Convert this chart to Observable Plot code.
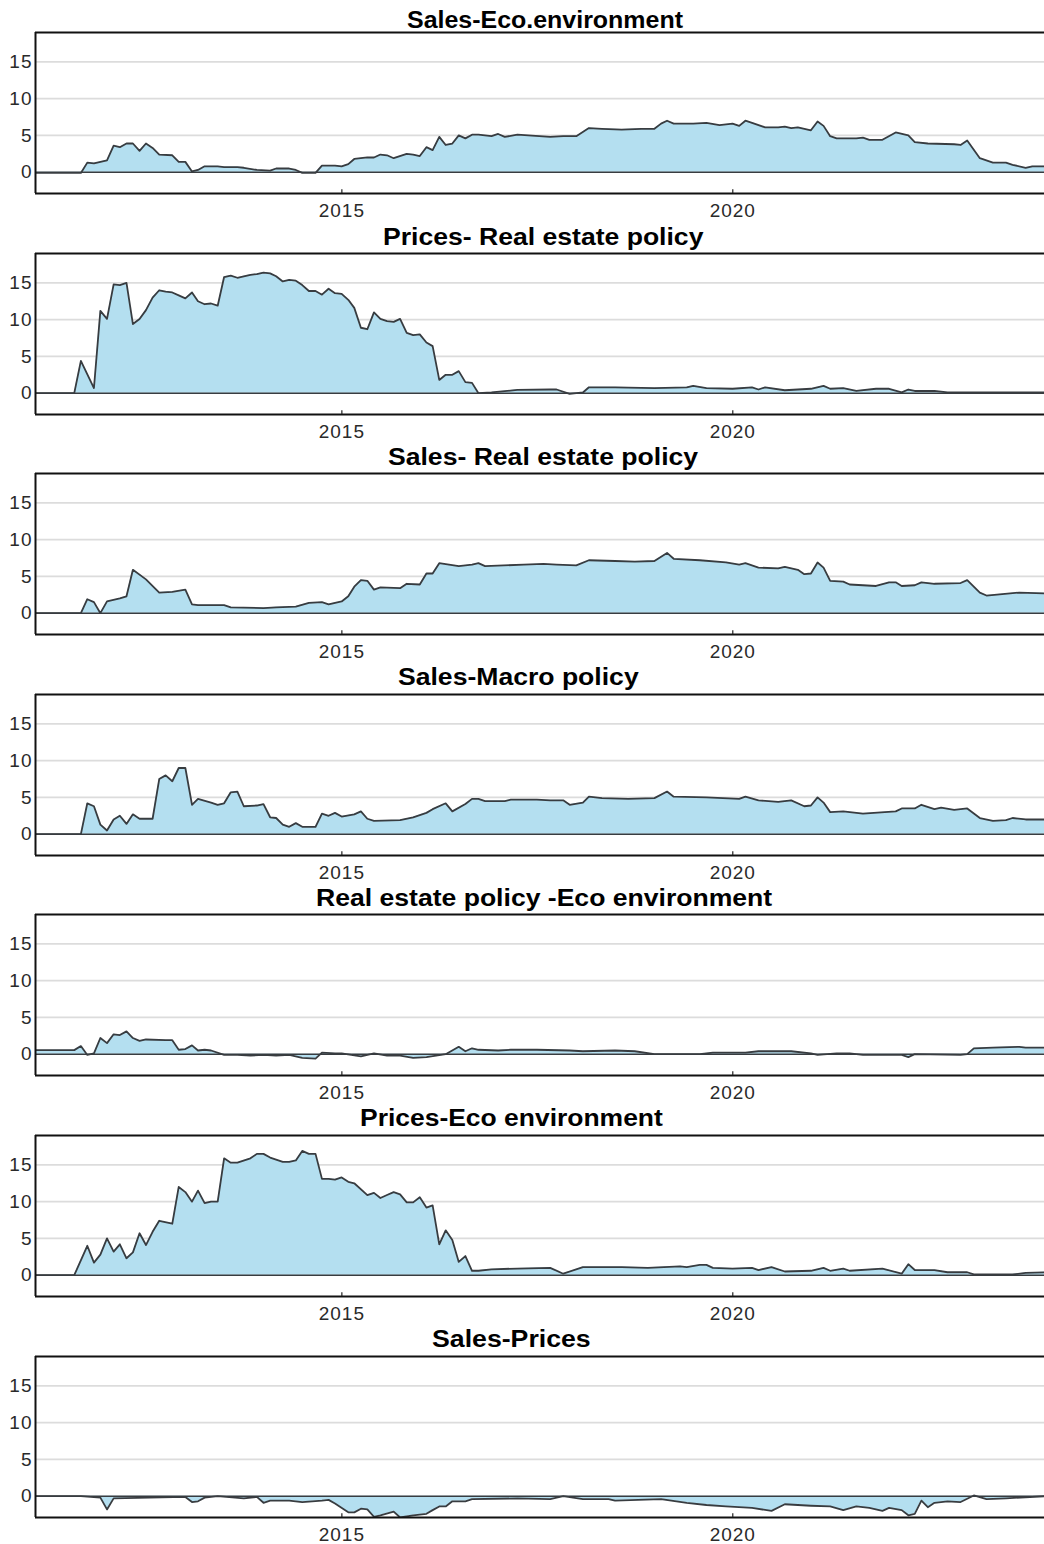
<!DOCTYPE html>
<html><head><meta charset="utf-8">
<script src="https://cdn.jsdelivr.net/npm/d3@7"></script>
<script src="https://cdn.jsdelivr.net/npm/@observablehq/plot@0.6"></script>
<style>
body{margin:0;background:#fff;font-family:Arial,"Liberation Sans",sans-serif;}
#root{position:relative;width:1044px;height:1544px;overflow:hidden;background:#fff;}
.panel{position:absolute;left:0;width:1044px;height:221px;}
.title{position:absolute;font-weight:bold;font-size:23px;line-height:23px;white-space:nowrap;color:#000;font-family:Arial,"Liberation Sans",sans-serif;transform-origin:0 0;}
.panel svg{position:absolute;top:22px;left:0;overflow:visible;}
.panel svg text{letter-spacing:1px;}
</style></head><body><div id="root"></div>
<script>
// ---- data: [months since Jan 2011, value] vertices ----
const titles = ["Sales-Eco.environment","Prices- Real estate policy","Sales- Real estate policy","Sales-Macro policy","Real estate policy -Eco environment","Prices-Eco environment","Sales-Prices"];

const salesEcoEnv = [[0,-0.1],[7,-0.1],[8,1.3],[9,1.2],[11,1.6],[12,3.6],[13,3.4],[14,3.9],[15,3.9],[16,2.9],[17,3.9],[18,3.3],[19,2.4],[21,2.3],[22,1.4],[23,1.4],[24,0.1],[25,0.3],[26,0.8],[28,0.8],[29,0.7],[31,0.7],[32,0.6],[34,0.3],[36,0.2],[37,0.5],[39,0.5],[40,0.3],[41,-0.1],[43,-0.1],[44,0.9],[46,0.9],[47,0.8],[48,1.1],[49,1.8],[51,2.0],[52,2.0],[53,2.4],[54,2.3],[55,1.9],[57,2.5],[58,2.4],[59,2.2],[60,3.4],[61,3.0],[62,4.8],[63,3.7],[64,3.9],[65,5.0],[66,4.6],[67,5.1],[68,5.1],[70,4.9],[71,5.2],[72,4.8],[74,5.1],[79,4.8],[81,4.9],[83,4.9],[85,6.0],[87,5.9],[90,5.8],[93,5.9],[95,5.9],[96,6.6],[97,7.0],[98,6.6],[101,6.6],[103,6.7],[105,6.4],[107,6.6],[108,6.3],[109,7.0],[110,6.7],[112,6.1],[114,6.1],[115,6.2],[116,6.0],[117,6.1],[119,5.7],[120,6.9],[121,6.3],[122,4.9],[123,4.6],[126,4.6],[127,4.7],[128,4.4],[130,4.4],[132,5.4],[134,5.0],[135,4.1],[137,3.9],[141,3.8],[142,3.7],[143,4.3],[145,1.9],[147,1.3],[149,1.3],[150,1.0],[152,0.6],[153,0.8],[155,0.8]];

const pricesRealEstate = [[0,0],[6,0],[7,4.4],[9,0.7],[10,11.2],[11,10.1],[12,14.8],[13,14.7],[14,15.0],[15,9.4],[16,10.1],[17,11.3],[18,13.0],[19,14.0],[20,13.8],[21,13.7],[22,13.3],[23,12.9],[24,13.7],[25,12.5],[26,12.1],[27,12.2],[28,11.9],[29,15.8],[30,16.0],[31,15.7],[32,15.9],[33,16.1],[34,16.2],[35,16.4],[36,16.3],[37,15.9],[38,15.2],[39,15.4],[40,15.3],[41,14.7],[42,13.9],[43,13.9],[44,13.4],[45,14.2],[46,13.6],[47,13.5],[48,12.7],[49,11.6],[50,8.9],[51,8.7],[52,11.0],[53,10.1],[54,9.8],[55,9.7],[56,10.1],[57,8.2],[58,7.9],[59,8.0],[60,6.9],[61,6.4],[62,1.8],[63,2.5],[64,2.5],[65,3.0],[66,1.5],[67,1.4],[68,0.0],[70,0.1],[74,0.45],[79,0.5],[80,0.5],[82,-0.1],[84,0.1],[85,0.8],[89,0.8],[95,0.7],[100,0.8],[101,1.0],[103,0.7],[107,0.6],[110,0.8],[111,0.5],[112,0.8],[115,0.4],[119,0.6],[121,1.0],[122,0.6],[124,0.7],[126,0.3],[129,0.6],[131,0.6],[133,0.1],[134,0.5],[135,0.3],[138,0.3],[140,0.1],[155,0.1]];

const salesRealEstate = [[0,0],[7,0],[8,1.9],[9,1.5],[10,0],[11,1.6],[13,2.0],[14,2.3],[15,5.9],[17,4.6],[19,2.8],[21,2.9],[23,3.2],[24,1.2],[25,1.1],[29,1.1],[30,0.8],[35,0.7],[37,0.8],[40,0.9],[42,1.4],[44,1.5],[45,1.2],[47,1.6],[48,2.3],[49,3.6],[50,4.5],[51,4.4],[52,3.2],[53,3.5],[56,3.4],[57,4.0],[59,3.9],[60,5.4],[61,5.4],[62,6.8],[65,6.4],[67,6.6],[68,6.8],[69,6.4],[75,6.6],[78,6.7],[80,6.6],[83,6.5],[85,7.2],[89,7.1],[92,7.0],[95,7.1],[97,8.2],[98,7.4],[102,7.2],[106,6.9],[108,6.6],[109,6.8],[111,6.2],[114,6.1],[115,6.3],[117,5.9],[118,5.3],[119,5.4],[120,6.9],[121,6.2],[122,4.4],[124,4.3],[125,3.9],[129,3.7],[131,4.2],[132,4.2],[133,3.7],[135,3.8],[136,4.2],[138,4.0],[142,4.1],[143,4.5],[145,2.8],[146,2.4],[151,2.8],[155,2.7]];

const salesMacro = [[0,0],[7,0],[8,4.2],[9,3.8],[10,1.3],[11,0.5],[12,2.0],[13,2.5],[14,1.4],[15,2.7],[16,2.1],[18,2.1],[19,7.5],[20,8.0],[21,7.2],[22,9.0],[23,9.0],[24,4.0],[25,4.8],[27,4.3],[28,4.0],[29,4.2],[30,5.7],[31,5.8],[32,3.8],[34,3.9],[35,4.1],[36,2.3],[37,2.2],[38,1.3],[39,1.0],[40,1.5],[41,1.0],[43,1.0],[44,2.8],[45,2.5],[46,2.9],[47,2.4],[49,2.7],[50,3.1],[51,2.1],[52,1.8],[56,1.9],[58,2.3],[60,2.9],[61,3.4],[63,4.2],[64,3.1],[66,4.1],[67,4.8],[68,4.8],[69,4.5],[72,4.5],[73,4.7],[77,4.7],[79,4.6],[81,4.6],[82,4.0],[84,4.3],[85,5.1],[87,4.9],[91,4.8],[95,4.9],[97,5.8],[98,5.1],[103,5.0],[108,4.8],[109,5.1],[111,4.6],[114,4.4],[116,4.6],[118,3.8],[119,3.9],[120,5.0],[121,4.3],[122,3.0],[124,3.1],[127,2.8],[132,3.1],[133,3.5],[135,3.5],[136,4.0],[138,3.4],[139,3.6],[141,3.3],[143,3.5],[145,2.2],[147,1.8],[149,1.9],[150,2.2],[152,2.0],[155,2.0]];

const realEstateEcoEnv = [[0,0.55],[6,0.55],[7,1.1],[8,-0.1],[9,0.1],[10,2.2],[11,1.5],[12,2.7],[13,2.6],[14,3.1],[15,2.2],[16,1.8],[17,2.0],[20,1.9],[21,1.9],[22,0.6],[23,0.7],[24,1.2],[25,0.5],[26,0.6],[27,0.5],[29,-0.1],[31,-0.1],[33,-0.2],[35,-0.1],[37,-0.2],[39,-0.1],[41,-0.5],[43,-0.6],[44,0.2],[46,0.1],[47,0.1],[50,-0.3],[52,0.1],[54,-0.2],[56,-0.2],[58,-0.5],[60,-0.4],[63,0.0],[65,1.0],[66,0.4],[67,0.8],[68,0.6],[71,0.5],[73,0.6],[77,0.6],[82,0.5],[84,0.4],[89,0.5],[92,0.4],[95,0.0],[102,0.0],[104,0.2],[109,0.2],[111,0.4],[116,0.4],[119,0.1],[120,-0.1],[123,0.1],[125,0.1],[127,-0.1],[133,-0.1],[134,-0.4],[135,0.0],[142,-0.1],[143,0.0],[144,0.8],[147,0.9],[151,1.0],[152,0.9],[155,0.9]];

const pricesEcoEnv = [[0,0],[6,0],[8,4.0],[9,1.7],[10,2.8],[11,5.0],[12,3.2],[13,4.2],[14,2.3],[15,3.1],[16,5.7],[17,4.1],[18,5.9],[19,7.4],[21,7.0],[22,12.0],[23,11.3],[24,10.0],[25,11.5],[26,9.8],[27,10.0],[28,10.0],[29,15.9],[30,15.3],[31,15.3],[33,15.9],[34,16.5],[35,16.5],[36,16.0],[38,15.4],[39,15.4],[40,15.6],[41,16.9],[42,16.5],[43,16.5],[44,13.1],[45,13.1],[46,13.0],[47,13.3],[48,12.7],[49,12.5],[51,10.9],[52,11.2],[53,10.5],[54,10.9],[55,11.3],[56,11.0],[57,9.9],[58,9.9],[59,10.6],[60,9.2],[61,9.5],[62,4.2],[63,6.1],[64,4.8],[65,1.8],[66,2.6],[67,0.6],[68,0.6],[70,0.8],[74,0.9],[79,1.0],[81,0.2],[84,1.1],[90,1.1],[94,1.0],[99,1.2],[100,1.1],[102,1.4],[103,1.4],[104,1.0],[107,0.9],[110,1.0],[111,0.7],[113,1.1],[115,0.5],[119,0.6],[121,1.0],[122,0.6],[124,0.9],[125,0.6],[130,0.9],[133,0.2],[134,1.5],[135,0.7],[138,0.7],[140,0.4],[143,0.4],[144,0.1],[150,0.1],[152,0.3],[155,0.4]];

const salesPrices = [[0,0],[7,0],[10,-0.2],[11,-1.8],[12,-0.3],[23,-0.1],[24,-0.8],[25,-0.7],[26,-0.2],[28,0.0],[32,-0.3],[34,-0.1],[35,-0.9],[36,-0.6],[39,-0.6],[41,-0.8],[44,-0.6],[45,-0.5],[46,-1.0],[48,-2.2],[49,-2.2],[50,-1.7],[51,-1.8],[52,-2.8],[53,-2.6],[55,-2.1],[56,-2.9],[58,-2.6],[60,-2.4],[61,-1.9],[62,-1.4],[63,-1.4],[64,-0.7],[66,-0.7],[67,-0.4],[74,-0.3],[79,-0.4],[81,0.0],[84,-0.4],[88,-0.4],[89,-0.6],[96,-0.4],[100,-0.9],[103,-1.2],[106,-1.4],[110,-1.6],[113,-2.0],[115,-1.1],[119,-1.3],[122,-1.4],[124,-1.9],[126,-1.4],[128,-1.6],[130,-2.0],[131,-1.6],[133,-1.9],[134,-2.6],[135,-2.4],[136,-0.6],[137,-1.5],[138,-0.9],[140,-0.7],[142,-0.8],[144,0.1],[146,-0.4],[149,-0.3],[155,0.0]];

const series = [salesEcoEnv, pricesRealEstate, salesRealEstate, salesMacro, realEstateEcoEnv, pricesEcoEnv, salesPrices];
const yTicks = [0, 5, 10, 15];
const gridValues = [5, 10, 15];
const xTickYears = [2015, 2020];
const yDomain = [-2.9, 19.0];

// ---- layout ----
const titleCenters = [545, 543, 543, 518, 544, 511, 511];
const titleStretch = [1.085, 1.155, 1.155, 1.155, 1.155, 1.15, 1.16];
const titleBaselineGap = [4, 7, 8, 8, 8, 9, 8];
const blockStep = 220.6;

const monthEnd = k => new Date(Date.UTC(2011, k + 1, 0));
const xDomain = [new Date(Date.UTC(2011, 0, 31)), new Date(Date.UTC(2023, 11, 27))];
const xTicks = xTickYears.map(y => new Date(Date.UTC(y, 0, 1)));
const fillColor = "#b4dff0";
const lineColor = "#383c40";

const root = document.getElementById("root");
series.forEach((s, i) => {
  const data = s.map(([k, v]) => ({date: monthEnd(k), value: v}));
  const panel = document.createElement("div");
  panel.className = "panel";
  panel.style.top = (i * blockStep) + "px";
  const t = document.createElement("div");
  t.className = "title";
  t.textContent = titles[i];
  t.style.top = (32 - titleBaselineGap[i] - 19.5) + "px";
  panel.appendChild(t);
  const chart = Plot.plot({
    width: 1044, height: 200,
    marginLeft: 35, marginRight: 0, marginTop: 10, marginBottom: 29,
    style: {fontFamily: "Arial, 'Liberation Sans', sans-serif", fontSize: "19px", color: "#2a2a2a", background: "transparent", overflow: "visible"},
    x: {type: "utc", domain: xDomain, ticks: xTicks, tickFormat: d3.utcFormat("%Y"), tickSize: 0, tickPadding: 10, label: null},
    y: {domain: yDomain, ticks: yTicks, tickSize: 0, tickPadding: 3, label: null},
    marks: [
      Plot.ruleY(gridValues, {stroke: "#dcdcdc", strokeWidth: 1.6}),
      Plot.areaY(data, {x: "date", y: "value", fill: fillColor, clip: true}),
      Plot.ruleY([0], {stroke: lineColor, strokeWidth: 1.6}),
      Plot.lineY(data, {x: "date", y: "value", stroke: lineColor, strokeWidth: 1.8, clip: true}),
      Plot.ruleY([yDomain[1]], {stroke: "#111", strokeWidth: 2}),
      Plot.ruleY([yDomain[0]], {stroke: "#111", strokeWidth: 2}),
      Plot.ruleX([xDomain[0]], {stroke: "#111", strokeWidth: 2}),
      Plot.ruleX(xTicks, {y1: yDomain[0], y2: yDomain[0] + 0.5, stroke: "#222", strokeWidth: 1.2})
    ]
  });
  panel.appendChild(chart);
  root.appendChild(panel);
  // centre the (horizontally stretched) title
  const w = t.getBoundingClientRect().width;
  t.style.left = (titleCenters[i] - w * titleStretch[i] / 2) + "px";
  t.style.transform = `scaleX(${titleStretch[i]})`;
});
</script>
</body></html>
